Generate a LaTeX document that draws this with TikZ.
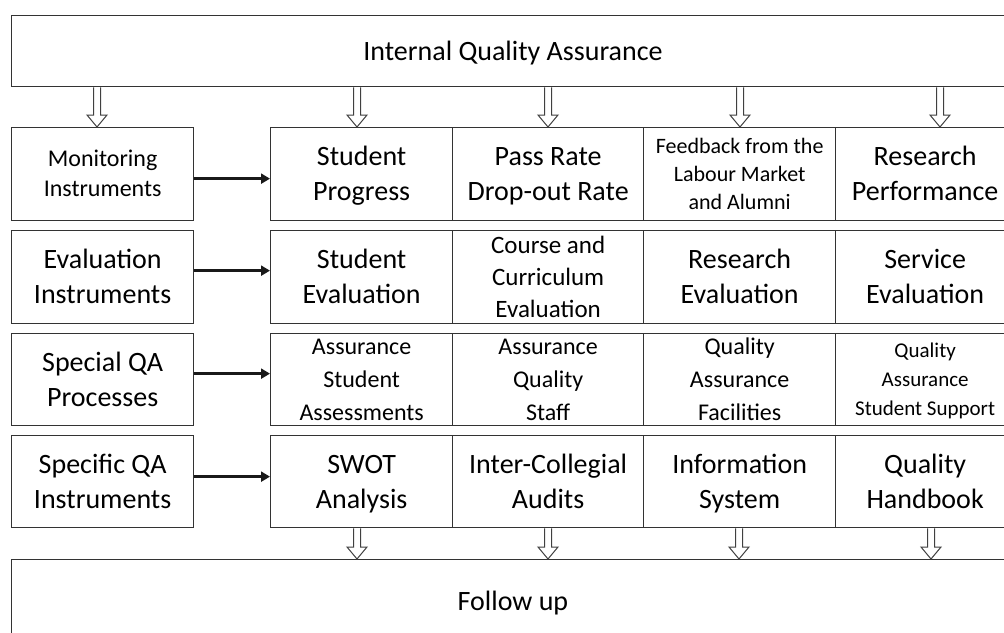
\documentclass[tikz,border=0pt]{standalone}
\usepackage{fontspec}
\setmainfont{Carlito}
\usetikzlibrary{arrows.meta,calc}
\newcommand\fsz[2]{\fontsize{#1}{#2}\selectfont}
\tikzset{
  box/.style={draw=black!80, line width=1.3pt, inner sep=0pt, align=center, anchor=north west,
    font=\fsz{28}{35}, text height=53pt, text depth=0pt},
  f24/.style={font=\fsz{24}{30}, text height=45.5pt},
  f25/.style={font=\fsz{25}{32}, text height=80pt},
  f24b/.style={font=\fsz{24}{33}, text height=81.5pt},
  f22/.style={font=\fsz{22}{28}, text height=70.2pt},
  f21/.style={font=\fsz{21}{29}, text height=71.5pt},
  single/.style={font=\fsz{28}{35}, inner sep=0pt, text height=18pt, text depth=0pt},
  harrow/.style={draw=black!90, line width=2.4pt, -{Triangle[length=9pt,width=10pt]}},
  dbl/.style={draw=black!75, line width=1pt, fill=white, line join=miter},
}
\newcommand\dblarr[2]{%
  \draw[dbl] ($(#1)+(-3.5,0)$) -- ($(#2)+(-3.5,-12)$) -- ($(#2)+(-10,-12)$) -- (#2)
    -- ($(#2)+(10,-12)$) -- ($(#2)+(3.5,-12)$) -- ($(#1)+(3.5,0)$);}
\begin{document}
\begin{tikzpicture}[x=1pt,y=-1pt]
\useasboundingbox (0,0) rectangle (1004,632);
\clip (0,0) rectangle (1004,632);
\fill[white] (0,0) rectangle (1004,632);
% top and bottom boxes
\node[box, minimum width=1003pt, minimum height=71pt] (top) at (11,15) {};
\node[single] (iqa) at (513,51) {Internal Quality Assurance};
\node[box, minimum width=1003pt, minimum height=86pt] (bot) at (11,559) {};
\node[single] (fu) at (513,601) {Follow up};
% left column
\node[box, f24, minimum width=182pt, minimum height=93pt] (l1) at (11,127) {Monitoring\\Instruments};
\node[box, minimum width=182pt, minimum height=93pt] (l2) at (11,230) {Evaluation\\Instruments};
\node[box, minimum width=182pt, minimum height=92pt] (l3) at (11,333) {Special QA\\Processes};
\node[box, minimum width=182pt, minimum height=92pt] (l4) at (11,435) {Specific QA\\Instruments};
% row 1
\node[box, minimum width=182pt, minimum height=93pt] (c11) at (270,127) {Student\\Progress};
\node[box, minimum width=191pt, minimum height=93pt] (c12) at (452,127) {Pass Rate\\Drop-out Rate};
\node[box, f22, minimum width=192pt, minimum height=93pt] (c13) at (643,127) {Feedback from the\\Labour Market\\and Alumni};
\node[box, minimum width=179pt, minimum height=93pt] (c14) at (835,127) {Research\\Performance};
% row 2
\node[box, minimum width=182pt, minimum height=93pt] (c21) at (270,230) {Student\\Evaluation};
\node[box, f25, minimum width=191pt, minimum height=93pt] (c22) at (452,230) {Course and\\Curriculum\\Evaluation};
\node[box, minimum width=192pt, minimum height=93pt] (c23) at (643,230) {Research\\Evaluation};
\node[box, minimum width=179pt, minimum height=93pt] (c24) at (835,230) {Service\\Evaluation};
% row 3
\node[box, f24b, minimum width=182pt, minimum height=92pt] (c31) at (270,333) {Assurance\\Student\\Assessments};
\node[box, f24b, minimum width=191pt, minimum height=92pt] (c32) at (452,333) {Assurance\\Quality\\Staff};
\node[box, f24b, minimum width=192pt, minimum height=92pt] (c33) at (643,333) {Quality\\Assurance\\Facilities};
\node[box, f21, minimum width=179pt, minimum height=92pt] (c34) at (835,333) {Quality\\Assurance\\Student Support};
% row 4
\node[box, minimum width=182pt, minimum height=92pt] (c41) at (270,435) {SWOT\\Analysis};
\node[box, minimum width=191pt, minimum height=92pt] (c42) at (452,435) {Inter-Collegial\\Audits};
\node[box, minimum width=192pt, minimum height=92pt] (c43) at (643,435) {Information\\System};
\node[box, minimum width=179pt, minimum height=92pt] (c44) at (835,435) {Quality\\Handbook};
% horizontal arrows
\draw[harrow] ([yshift=-4.5pt]l1.east) -- ([yshift=-4.5pt]l1.east -| c11.west);
\draw[harrow] ([yshift=6.5pt]l2.east) -- ([yshift=6.5pt]l2.east -| c21.west);
\draw[harrow] ([yshift=6pt]l3.east) -- ([yshift=6pt]l3.east -| c31.west);
\draw[harrow] ([yshift=5pt]l4.east) -- ([yshift=5pt]l4.east -| c41.west);
% top double arrows
\coordinate (xa) at (97,0);
\coordinate (xb) at (357,0);
\coordinate (xc) at (548,0);
\coordinate (xd) at (740,0);
\coordinate (xe) at (940,0);
\coordinate (ta1) at (top.south -| xa); \coordinate (tb1) at (l1.north -| xa);
\coordinate (ta2) at (top.south -| xb); \coordinate (tb2) at (c11.north -| xb);
\coordinate (ta3) at (top.south -| xc); \coordinate (tb3) at (c12.north -| xc);
\coordinate (ta4) at (top.south -| xd); \coordinate (tb4) at (c13.north -| xd);
\coordinate (ta5) at (top.south -| xe); \coordinate (tb5) at (c14.north -| xe);
\dblarr{ta1}{tb1}
\dblarr{ta2}{tb2}
\dblarr{ta3}{tb3}
\dblarr{ta4}{tb4}
\dblarr{ta5}{tb5}
% bottom double arrows
\coordinate (xf) at (739,0);
\coordinate (xg) at (931,0);
\coordinate (ba1) at (c41.south -| xb); \coordinate (bb1) at (bot.north -| xb);
\coordinate (ba2) at (c42.south -| xc); \coordinate (bb2) at (bot.north -| xc);
\coordinate (ba3) at (c43.south -| xf); \coordinate (bb3) at (bot.north -| xf);
\coordinate (ba4) at (c44.south -| xg); \coordinate (bb4) at (bot.north -| xg);
\dblarr{ba1}{bb1}
\dblarr{ba2}{bb2}
\dblarr{ba3}{bb3}
\dblarr{ba4}{bb4}
\end{tikzpicture}
\end{document}
